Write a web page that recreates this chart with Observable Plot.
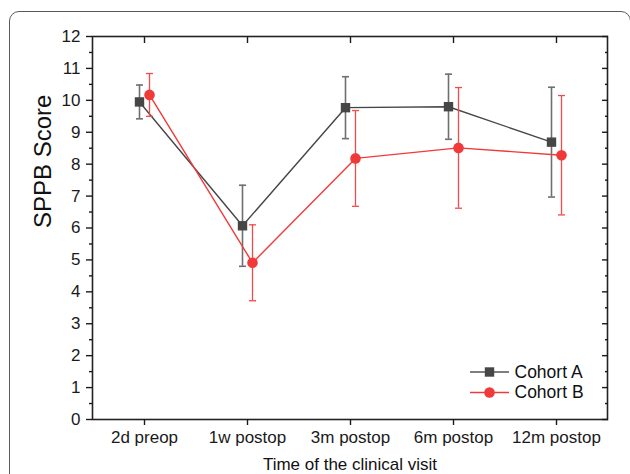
<!DOCTYPE html>
<html>
<head>
<meta charset="utf-8">
<script src="https://cdn.jsdelivr.net/npm/d3@7"></script>
<script src="https://cdn.jsdelivr.net/npm/@observablehq/plot@0.6"></script>
<style>
  html, body { margin: 0; padding: 0; background: #fff; overflow: hidden; }
  #wrap { position: relative; width: 630px; height: 474px; overflow: hidden; }
  #border { position: absolute; left: 9px; top: 11px; width: 620px; height: 520px;
            border: 1.5px solid #5a5a5a; border-radius: 10px; pointer-events: none; }
  #chart { position: absolute; left: 0; top: 0; }
</style>
</head>
<body>
<div id="wrap"><div id="border"></div><div id="chart"></div></div>
<script>
const categories = ["2d preop", "1w postop", "3m postop", "6m postop", "12m postop"];
const cohortAMean = [9.95, 6.07, 9.77, 9.80, 8.69];
const cohortASD   = [0.53, 1.27, 0.97, 1.02, 1.72];
const cohortBMean = [10.17, 4.91, 8.18, 8.51, 8.28];
const cohortBSD   = [0.67, 1.19, 1.50, 1.89, 1.87];
const seriesNames = ["Cohort A", "Cohort B"];
const yTicks = d3.range(0, 13);
const yMinor = d3.range(0.5, 12, 1);
const yLabel = "SPPB Score";
const xLabel = "Time of the clinical visit";

const colA = "#464646", colAerr = "#6f6f6f";
const colB = "#f03a3a", colBerr = "#f04a4a";

const A = categories.map((c, i) => ({cat: c, mean: cohortAMean[i], sd: cohortASD[i]}));
const B = categories.map((c, i) => ({cat: c, mean: cohortBMean[i], sd: cohortBSD[i]}));

const capSymbol = {draw(ctx, size) { const r = Math.sqrt(size / Math.PI); ctx.moveTo(-r, 0); ctx.lineTo(r, 0); }};

function series(data, col, colErr, symbol, dx, errW) {
  return [
    Plot.ruleX(data, {x: "cat", y1: d => d.mean - d.sd, y2: d => d.mean + d.sd, stroke: colErr, strokeWidth: errW, dx}),
    Plot.dot(data, {x: "cat", y: d => d.mean + d.sd, symbol: capSymbol, r: 3.5, stroke: colErr, strokeWidth: errW, fill: "none", dx}),
    Plot.dot(data, {x: "cat", y: d => d.mean - d.sd, symbol: capSymbol, r: 3.5, stroke: colErr, strokeWidth: errW, fill: "none", dx}),
    Plot.line(data, {x: "cat", y: "mean", stroke: col, strokeWidth: 1.4, dx}),
    Plot.dot(data, {x: "cat", y: "mean", symbol, r: 5.3, fill: col, stroke: "none", dx})
  ];
}

const legendRows = [
  {name: seriesNames[0], col: colA, lineCol: "#555", symbol: "square", dy: -47.5},
  {name: seriesNames[1], col: colB, lineCol: colB, symbol: "circle", dy: -27}
];
const legendLine = {draw(ctx, size) { ctx.moveTo(-19.5, 0); ctx.lineTo(19.5, 0); }};
const legendMarks = legendRows.flatMap(r => [
  Plot.dot([0], {frameAnchor: "bottom-right", dx: -118, dy: r.dy, symbol: legendLine, r: 5, stroke: r.lineCol, strokeWidth: 1.4, fill: "none"}),
  Plot.dot([0], {frameAnchor: "bottom-right", dx: -118, dy: r.dy, symbol: r.symbol, r: 5.3, fill: r.col, stroke: "none"}),
  Plot.text([r.name], {frameAnchor: "bottom-right", dx: -93, dy: r.dy, lineAnchor: "middle", text: d => d, textAnchor: "start", fontSize: 17.5, fill: "#111"})
]);

const plot = Plot.plot({
  width: 630, height: 474,
  marginLeft: 92, marginRight: 23, marginTop: 36, marginBottom: 55,
  style: {fontFamily: "'Liberation Sans', Arial, sans-serif", fontSize: "17px", color: "#1a1a1a", background: "transparent"},
  x: {type: "point", domain: categories, padding: 0.5},
  y: {domain: [0, 12]},
  marks: [
    ...series(A, colA, colAerr, "square", -5, 1.6),
    ...series(B, colB, colBerr, "circle", 5, 1.3),
    Plot.frame({stroke: "#222", strokeWidth: 1.6}),
    Plot.axisY({ticks: yTicks, tickSize: 6, tickPadding: 6, tickFormat: d => d, label: null, strokeWidth: 1.4}),
    Plot.axisY({ticks: yMinor, tickSize: 3, tickFormat: null, text: null, label: null, strokeWidth: 1.4}),
    Plot.axisY({anchor: "right", ticks: yTicks, tickSize: 6, dx: -6, text: null, label: null, strokeWidth: 1.4}),
    Plot.axisY({anchor: "right", ticks: yMinor, tickSize: 3, dx: -3, text: null, label: null, strokeWidth: 1.4}),
    Plot.axisX({anchor: "bottom", tickSize: 6, tickPadding: 5, label: null, strokeWidth: 1.4}),
    Plot.axisX({anchor: "top", tickSize: 6, dy: 6, text: null, label: null, strokeWidth: 1.4}),
    Plot.text([xLabel], {frameAnchor: "bottom", dy: 45.5, lineAnchor: "middle", text: d => d, fontSize: 17, fill: "#111"}),
    Plot.text([yLabel], {frameAnchor: "left", dx: -49, rotate: -90, text: d => d, fontSize: 24, fill: "#111"}),
    ...legendMarks
  ]
});
document.getElementById("chart").append(plot);
</script>
</body>
</html>
